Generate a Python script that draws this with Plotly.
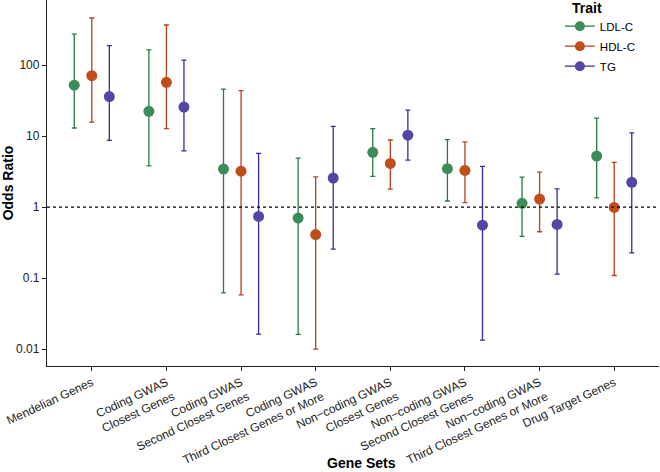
import plotly.graph_objects as go
import numpy as np

categories = ["Mendelian Genes", "Coding GWAS<br>Closest Genes", "Coding GWAS<br>Second Closest Genes",
              "Coding GWAS<br>Third Closest Genes or More", "Non\u2212coding GWAS<br>Closest Genes",
              "Non\u2212coding GWAS<br>Second Closest Genes", "Non\u2212coding GWAS<br>Third Closest Genes or More",
              "Drug Target Genes"]

traits = ["LDL-C", "HDL-C", "TG"]

ldl_or = [52, 22.3, 3.43, 0.70, 5.9, 3.47, 1.13, 5.23]
ldl_lo = [13, 3.8, 0.062, 0.0162, 2.7, 1.22, 0.387, 1.35]
ldl_hi = [273, 163, 45.9, 4.9, 12.7, 8.9, 2.65, 17.9]

hdl_or = [70.7, 57, 3.21, 0.41, 4.12, 3.28, 1.30, 0.99]
hdl_lo = [15.7, 12.7, 0.058, 0.010, 1.79, 1.16, 0.45, 0.109]
hdl_hi = [459, 366, 43.5, 2.67, 8.8, 8.3, 3.11, 4.26]

tg_or = [36, 25.6, 0.74, 2.56, 10.3, 0.557, 0.57, 2.23]
tg_lo = [8.7, 6.2, 0.0163, 0.256, 4.6, 0.0134, 0.114, 0.227]
tg_hi = [187, 117.6, 5.7, 13.7, 23.2, 3.74, 1.81, 11.1]

y_ticks = [0.01, 0.1, 1, 10, 100]
y_ticklabels = ["0.01", "0.1", "1", "10", "100"]

point_colors = ["#3D8B5A", "#BF4E1B", "#5546A6"]
bar_colors = ["#2A7A40", "#B8401C", "#3A2AA0"]
offsets = [-0.235, 0.0, 0.235]

series = [(ldl_or, ldl_lo, ldl_hi), (hdl_or, hdl_lo, hdl_hi), (tg_or, tg_lo, tg_hi)]

fig = go.Figure()
xbase = np.arange(1, len(categories) + 1)

# reference line at OR = 1
fig.add_shape(type="line", xref="paper", x0=0, x1=1, yref="y", y0=1, y1=1,
              line=dict(color="black", width=1.2, dash="dot"))

for i, (name, (orv, lo, hi)) in enumerate(zip(traits, series)):
    orv = np.array(orv); lo = np.array(lo); hi = np.array(hi)
    fig.add_trace(go.Scatter(
        x=xbase + offsets[i], y=orv, mode="markers", name=name, showlegend=False,
        marker=dict(color=point_colors[i], size=11),
        error_y=dict(type="data", symmetric=False, array=hi - orv, arrayminus=orv - lo,
                     color=bar_colors[i], thickness=1.3, width=2.5),
    ))
    fig.add_trace(go.Scatter(
        x=[None], y=[None], mode="lines+markers", name=name, showlegend=True,
        legendgroup=name,
        marker=dict(color=point_colors[i], size=10),
        line=dict(color=bar_colors[i], width=1.3),
    ))

fig.add_annotation(text="<b>Trait</b>", xref="paper", yref="paper",
                   x=(570 - 47) / 612, y=1.0, xanchor="left", yanchor="top",
                   showarrow=False, font=dict(size=14), yshift=2)
fig.add_annotation(text="<b>Gene Sets</b>", xref="paper", yref="paper",
                   x=(361 - 47) / 612, y=-(463 - 366) / 366, xanchor="center", yanchor="middle",
                   showarrow=False, font=dict(size=14), borderpad=0)

fig.update_layout(
    width=660, height=472,
    margin=dict(l=47, r=1, t=0, b=106),
    plot_bgcolor="white", paper_bgcolor="white",
    font=dict(family="Liberation Sans, Arial, sans-serif", color="black"),
    legend=dict(x=0.838, y=0.968, xanchor="left", yanchor="top",
                font=dict(size=11.5), itemwidth=30, bgcolor="rgba(0,0,0,0)",
                tracegroupgap=1),
)

fig.update_xaxes(
    range=[0.4, 8.6], tickmode="array", tickvals=list(xbase), ticktext=categories,
    tickangle=-25, showline=True, linecolor="#222", linewidth=1.3, automargin=False,
    ticks="outside", ticklen=4, tickcolor="#222", showgrid=False, zeroline=False,
    tickfont=dict(size=12, color="#222"), ticklabeloverflow="allow",
)
fig.update_yaxes(
    type="log", range=[np.log10(0.0058), np.log10(823)], automargin=False,
    tickmode="array", tickvals=y_ticks, ticktext=y_ticklabels,
    showline=True, linecolor="#222", linewidth=1.3,
    ticks="outside", ticklen=4, tickcolor="#222", showgrid=False, zeroline=False,
    tickfont=dict(size=12, color="#222"),
    title=dict(text="<b>Odds Ratio</b>", font=dict(size=14), standoff=4),
)

fig.write_html("out.html", config={"displayModeBar": False},
               post_script="document.body.style.margin='0';document.body.style.overflow='hidden';")
